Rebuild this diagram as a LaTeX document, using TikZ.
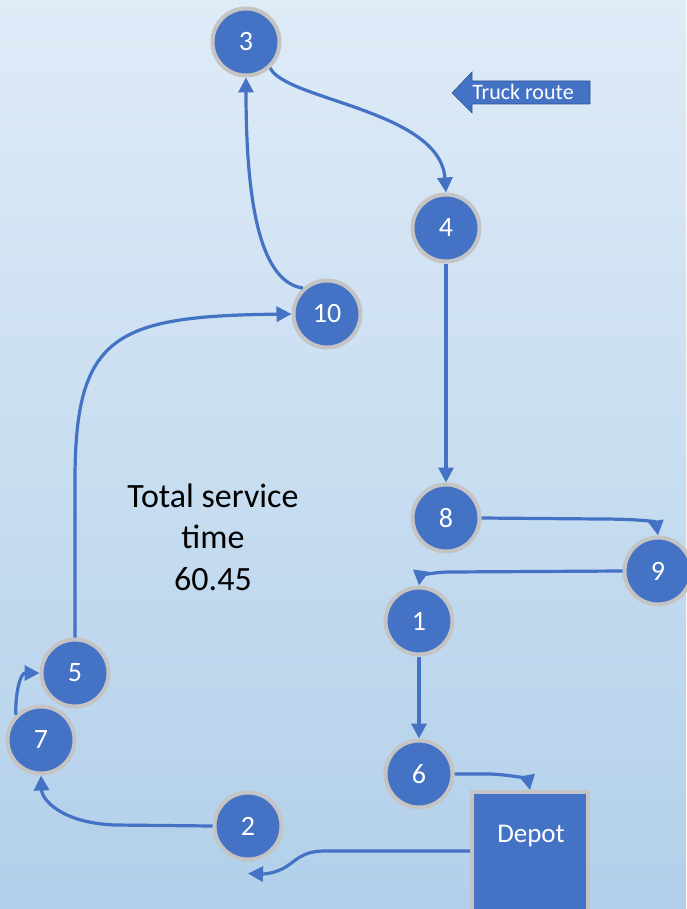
\documentclass[tikz,border=0pt]{standalone}
\usepackage{fontspec}
\setmainfont{Carlito}
\usetikzlibrary{arrows.meta}
\definecolor{nodeblue}{RGB}{68,114,196}
\definecolor{ringgray}{RGB}{196,196,196}
\definecolor{bgtop}{RGB}{223,235,247}
\definecolor{bgbot}{RGB}{178,208,234}
\definecolor{arrowedge}{RGB}{47,82,143}

\begin{document}
\begin{tikzpicture}[x=1pt,y=-1pt,
  stop/.style={circle, fill=nodeblue, draw=ringgray, line width=4pt,
    minimum size=67pt, inner sep=0pt, text=white,
    font=\fontsize{28}{28}\selectfont},
  depotbox/.style={rectangle, fill=nodeblue, draw=ringgray, line width=4pt,
    minimum width=116pt, minimum height=130pt, inner sep=0pt},
  route/.style={draw=nodeblue, line width=3.2pt,
    -{Triangle[length=15pt,width=15pt]}}]

% background
\useasboundingbox (0,0) rectangle (686,909);
\shade[top color=bgtop, bottom color=bgbot] (0,0) rectangle (686,909);

% customers
\node[stop] (n3)  at (246,42)  {3};
\node[stop] (n4)  at (446,228) {4};
\node[stop] (n10) at (327,314) {10};
\node[stop] (n8)  at (446,518) {8};
\node[stop] (n9)  at (658,571) {9};
\node[stop] (n1)  at (419,621) {1};
\node[stop] (n6)  at (419,774) {6};
\node[stop] (n5)  at (75,673)  {5};
\node[stop] (n7)  at (41,740)  {7};
\node[stop] (n2)  at (248,826) {2};

% depot
\node[depotbox] (depot) at (530,857) {};
\node[text=white, font=\fontsize{27}{27}\selectfont] (depotlabel) at (531,836) {Depot};

% legend arrow
\fill[nodeblue, draw=arrowedge, line width=0.6pt]
  (590,81) -- (472,81) -- (472,72) -- (452,93) -- (472,113) -- (472,104) -- (590,104) -- cycle;
\node[text=white, font=\fontsize{22}{22}\selectfont] (legend) at (523,92) {Truck route};

% summary
\node[align=center, font=\fontsize{34}{41.5}\selectfont] (total) at (213,537)
  {Total service\\time\\60.45};

% route
\draw[route] (depot.west |- 0,851) -- (325,851)
  .. controls (300,851) and (296,862) .. (282,869)
  .. controls (272,874) and (262,874) .. ([yshift=-12pt]n2.south);
\draw[route] (n2.west) -- (115,825) .. controls (62,823) and (42,800) .. (n7.south);
\draw[route] (n7.135) .. controls (15,695) and (20,673) .. (n5.west);
\draw[route] (n5.north) -- (75,480) .. controls (75,335) and (115,316) .. (n10.west);
\draw[route] (n10.133) .. controls (262,282) and (246,210) .. (n3.south);
\draw[route] (n3.-47) .. controls (285,100) and (440,110) .. (n4.north);
\draw[route] (n4.south) -- (n8.north);
\draw[route] (n8.east) -- (600,519) .. controls (640,519) and (656,522) .. (n9.north);
\draw[route] (n9.west) -- (450,572) .. controls (428,572) and (420,578) .. (n1.north);
\draw[route] (n1.south) -- (n6.north);
\draw[route] (n6.east) -- (490,774) .. controls (515,775) and (528,780) .. (depot.north);
\end{tikzpicture}
\end{document}
